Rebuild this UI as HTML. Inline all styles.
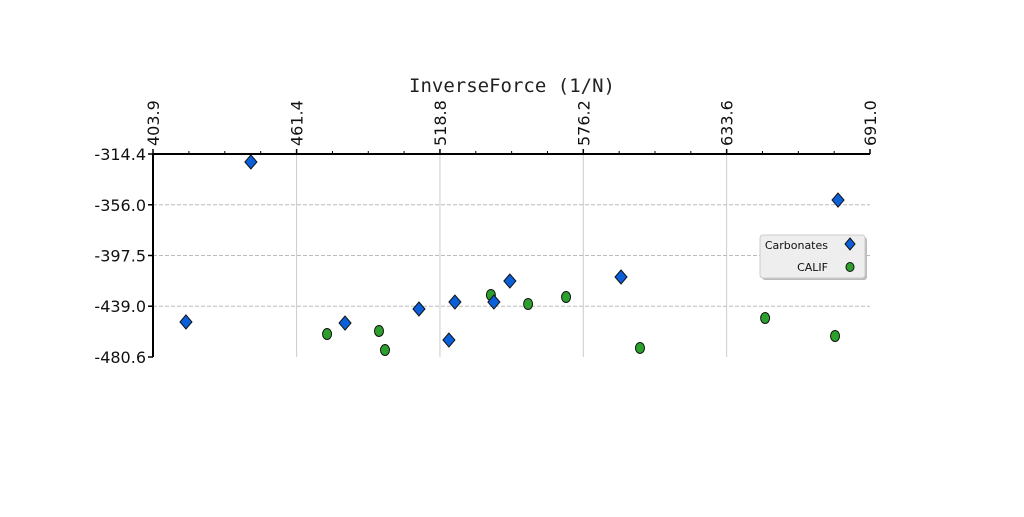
<!DOCTYPE html>
<html><head><meta charset="utf-8"><style>
body{margin:0;background:#fff;width:1024px;height:512px;overflow:hidden}
svg{font-family:"DejaVu Sans","Liberation Sans",sans-serif}
</style></head><body>
<svg id="chart" width="1024" height="512">
<g id="grid"></g><g id="axes"></g><g id="marks"></g>
<text x="512" y="92" text-anchor="middle" font-size="19" font-family="DejaVu Sans Mono,Liberation Mono,monospace" fill="#222">InverseForce (1/N)</text>
<g>
<rect x="762" y="237" width="105" height="43" rx="3" fill="#bbb"/>
<rect x="760" y="235" width="105" height="43" rx="3" fill="#eee" stroke="#ccc"/>
<text x="828" y="249" text-anchor="end" font-size="11" fill="#111">Carbonates</text>
<path d="M850 238 L855 244 L850 250 L845 244 Z" fill="#0b5fd8" stroke="#111"/>
<text x="828" y="271" text-anchor="end" font-size="11" fill="#111">CALIF</text>
<ellipse cx="850" cy="267" rx="4" ry="4.5" fill="#2ca02c" stroke="#111"/>
</g>
</svg>
<script>
const xTicks=[403.9,461.4,518.8,576.2,633.6,691.0];
const yTicks=[-314.4,-356.0,-397.5,-439.0,-480.6];
const carbX=[417.1,443.1,480.8,510.4,522.4,524.8,540.4,546.8,591.3,678.2];
const carbY=[-451.9,-320.9,-452.8,-441.3,-466.7,-435.6,-435.6,-418.4,-415.1,-352.1];
const califX=[473.6,494.4,496.8,539.2,554.1,569.3,598.9,649.0,677.0];
const califY=[-461.8,-459.3,-474.9,-429.8,-437.2,-431.5,-473.2,-448.7,-463.4];
const X0=153,X1=870,Y0=154,Y1=357;
const sx=v=>X0+(v-403.9)/(691.0-403.9)*(X1-X0);
const sy=v=>Y0+(-314.4-v)/(-314.4+480.6)*(Y1-Y0);
const NS='http://www.w3.org/2000/svg';
function mk(t,a,p){const e=document.createElementNS(NS,t);for(const k in a)e.setAttribute(k,a[k]);p.appendChild(e);return e;}
const grid=document.getElementById('grid'),axes=document.getElementById('axes'),marks=document.getElementById('marks');
xTicks.forEach((v,i)=>{
 const x=sx(v);
 if(i>0&&i<xTicks.length-1){const g=mk('line',{x1:x,x2:x,y1:Y0,y2:Y1,stroke:'#ccc','stroke-width':1},grid);
 
 }
 mk('line',{x1:x,x2:x,y1:Y0-5,y2:Y0,stroke:'#000','stroke-width':1.5},axes);
 const t=mk('text',{x:0,y:0,transform:`translate(${x+6},${Y0-8}) rotate(-90)`,'font-size':16,fill:'#111'},axes);
 t.textContent=v.toFixed(1);
 
 
 if(i<xTicks.length-1){const nx=sx(xTicks[i+1]);for(let k=1;k<4;k++){const mx=x+(nx-x)*k/4;mk('line',{x1:mx,x2:mx,y1:Y0-3,y2:Y0,stroke:'#000'},axes);}}
});
yTicks.forEach((v,i)=>{
 const y=sy(v);
 if(i>0&&i<yTicks.length-1){const g=mk('line',{x1:X0,x2:X1,y1:y,y2:y,stroke:'#bbb','stroke-dasharray':'4,2'},grid);
 
 }
 mk('line',{x1:X0-5,x2:X0,y1:y,y2:y,stroke:'#000','stroke-width':1.5},axes);
 const t=mk('text',{x:X0-7,y:y+6,'text-anchor':'end','font-size':16,fill:'#111'},axes);
 t.textContent=v.toFixed(1);
 
 
});
const ax=mk('line',{x1:X0,x2:X1,y1:Y0,y2:Y0,stroke:'#000','stroke-width':2},axes);


const ay=mk('line',{x1:X0,x2:X0,y1:Y0,y2:Y1,stroke:'#000','stroke-width':2},axes);


califX.forEach((v,i)=>{
 const e=mk('ellipse',{cx:sx(v),cy:sy(califY[i]),rx:4.5,ry:5.5,fill:'#2ca02c',stroke:'#111'},marks);
 
 
});
carbX.forEach((v,i)=>{
 const x=sx(v),y=sy(carbY[i]);
 const e=mk('path',{d:`M${x} ${y-7} L${x+6} ${y} L${x} ${y+7} L${x-6} ${y} Z`,fill:'#0b5fd8',stroke:'#111'},marks);
 
 
});
</script>
</body></html>
